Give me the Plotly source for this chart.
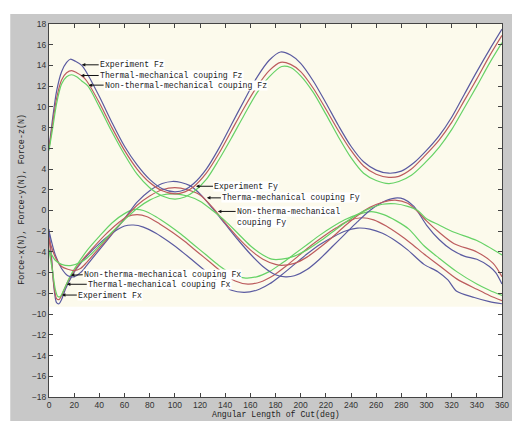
import plotly.graph_objects as go

# ---------------- data ----------------
fz_exp_x = [0, 3, 6, 10, 14, 17, 21, 26, 30, 40, 50, 60, 70, 80, 90, 100, 108, 115, 125, 135, 145, 155, 165, 175, 184, 192, 200, 210, 220, 230, 240, 250, 260, 270, 280, 290, 300, 310, 320, 330, 340, 350, 360]
fz_exp_y = [6.0, 9.0, 11.5, 13.4, 14.3, 14.6, 14.4, 14.0, 13.3, 11.0, 8.5, 6.2, 4.4, 3.0, 2.1, 1.8, 2.0, 2.6, 4.0, 6.0, 8.3, 10.6, 12.8, 14.5, 15.3, 15.0, 14.2, 12.5, 10.4, 8.2, 6.2, 4.7, 3.9, 3.6, 3.8, 4.6, 5.8, 7.2, 9.0, 11.2, 13.4, 15.5, 17.5]

fz_th_x = [0, 3, 6, 10, 14, 18, 22, 26, 30, 40, 50, 60, 70, 80, 90, 100, 108, 115, 125, 135, 145, 155, 165, 175, 184, 192, 200, 210, 220, 230, 240, 250, 260, 270, 278, 288, 298, 310, 320, 330, 340, 350, 360]
fz_th_y = [6.0, 8.5, 10.8, 12.6, 13.3, 13.5, 13.3, 13.0, 12.5, 10.4, 8.0, 5.8, 4.0, 2.7, 1.9, 1.6, 1.8, 2.3, 3.6, 5.5, 7.7, 9.9, 11.9, 13.5, 14.3, 14.1, 13.4, 11.8, 9.8, 7.7, 5.8, 4.3, 3.5, 3.2, 3.3, 4.0, 5.2, 6.8, 8.5, 10.6, 12.7, 14.9, 16.9]

fz_non_x = [0, 3, 6, 10, 14, 18, 22, 26, 31, 40, 50, 60, 70, 80, 90, 100, 108, 115, 125, 135, 145, 155, 165, 175, 185, 192, 200, 210, 220, 230, 240, 250, 260, 270, 278, 288, 298, 310, 320, 330, 340, 350, 360]
fz_non_y = [5.8, 8.0, 10.3, 12.2, 12.9, 13.1, 12.9, 12.5, 12.0, 10.0, 7.6, 5.4, 3.5, 2.2, 1.4, 1.1, 1.3, 1.8, 3.0, 4.9, 7.0, 9.2, 11.3, 12.9, 13.9, 13.8, 13.0, 11.4, 9.3, 7.1, 5.1, 3.6, 2.9, 2.6, 2.8, 3.4, 4.5, 6.1, 7.8, 9.9, 12.0, 14.2, 16.2]

fy_exp_x = [0, 5, 10, 15, 20, 25, 30, 40, 50, 60, 70, 80, 90, 98, 105, 112, 120, 130, 140, 150, 160, 170, 180, 188, 195, 205, 215, 225, 235, 245, 255, 265, 275, 282, 290, 300, 310, 320, 330, 340, 350, 355, 360]
fy_exp_y = [-2.0, -4.3, -5.6, -6.3, -6.4, -6.0, -5.3, -3.8, -2.3, -0.8, 0.8, 1.9, 2.6, 2.8, 2.7, 2.4, 1.6, 0.2, -1.3, -2.8, -4.2, -5.4, -6.2, -6.4, -6.3, -5.7, -4.7, -3.5, -2.3, -1.1, 0.0, 0.8, 1.2, 1.1, 0.4, -1.4, -2.8, -3.8, -4.4, -4.7, -5.4, -6.0, -7.1]

fy_th_x = [0, 5, 10, 20, 25, 30, 40, 50, 60, 70, 80, 90, 100, 110, 120, 130, 140, 150, 160, 170, 180, 185, 195, 205, 215, 225, 235, 245, 255, 265, 275, 285, 293, 300, 310, 322, 340, 353, 360]
fy_th_y = [-2.8, -4.5, -5.4, -5.8, -5.6, -5.0, -3.6, -2.2, -0.8, 0.5, 1.4, 2.0, 2.2, 2.0, 1.5, 0.3, -1.2, -2.6, -3.8, -4.7, -5.2, -5.3, -5.1, -4.5, -3.6, -2.6, -1.5, -0.5, 0.3, 0.8, 1.0, 0.7, -0.1, -1.0, -2.1, -3.2, -4.0, -5.1, -6.4]

fy_non_x = [0, 5, 10, 18, 25, 30, 40, 50, 60, 70, 80, 90, 100, 110, 120, 130, 140, 150, 160, 170, 177, 185, 195, 205, 215, 225, 235, 245, 255, 265, 275, 285, 293, 300, 310, 322, 340, 360]
fy_non_y = [-3.8, -4.8, -5.2, -5.3, -5.0, -4.6, -3.4, -2.1, -0.9, 0.2, 1.0, 1.5, 1.6, 1.4, 0.9, 0.0, -1.0, -2.2, -3.4, -4.3, -4.7, -4.7, -4.4, -3.8, -3.0, -2.1, -1.2, -0.4, 0.2, 0.6, 0.65, 0.4, 0.0, -0.8, -1.4, -2.1, -2.9, -4.3]

fx_exp_x = [0, 2, 4, 6, 8, 10, 13, 17, 22, 30, 40, 50, 60, 67, 75, 85, 95, 105, 115, 125, 135, 145, 155, 165, 175, 185, 195, 205, 215, 225, 235, 245, 255, 265, 275, 285, 298, 309, 317, 324, 338, 350, 360]
fx_exp_y = [-1.8, -4.5, -7.5, -8.9, -9.0, -8.6, -7.6, -6.6, -5.6, -4.4, -3.2, -2.2, -1.5, -1.4, -1.6, -2.2, -3.0, -3.9, -4.9, -5.9, -6.9, -7.7, -7.9, -7.7, -7.1, -6.2, -5.2, -4.2, -3.3, -2.6, -2.0, -1.7, -1.8, -2.2, -2.9, -3.8, -5.2, -5.9, -6.7, -7.8, -8.4, -8.8, -9.0]

fx_th_x = [0, 2, 4, 6, 8, 10, 14, 18, 25, 35, 45, 55, 62, 70, 78, 88, 98, 108, 118, 128, 138, 148, 158, 168, 178, 188, 198, 208, 218, 228, 238, 248, 258, 268, 278, 288, 298, 310, 324, 340, 350, 360]
fx_th_y = [-2.6, -4.8, -7.3, -8.5, -8.6, -8.2, -7.1, -6.2, -5.0, -3.6, -2.3, -1.2, -0.6, -0.4, -0.6, -1.3, -2.1, -3.0, -4.0, -5.0, -6.0, -6.8, -7.1, -6.9, -6.3, -5.4, -4.4, -3.4, -2.5, -1.7, -1.0, -0.7, -0.9, -1.5, -2.3, -3.2, -4.2, -5.3, -6.6, -7.6, -8.2, -8.7]

fx_non_x = [0, 3, 5, 7, 9, 12, 17, 22, 30, 40, 50, 60, 68, 75, 85, 95, 105, 115, 125, 135, 145, 155, 165, 175, 185, 195, 205, 215, 225, 235, 245, 256, 266, 276, 286, 298, 310, 324, 340, 350, 360]
fx_non_y = [-3.8, -6.0, -7.6, -8.3, -8.3, -7.6, -6.3, -5.3, -3.9, -2.5, -1.2, -0.3, 0.1, 0.0, -0.6, -1.4, -2.3, -3.3, -4.3, -5.3, -6.1, -6.5, -6.4, -5.9, -5.1, -4.2, -3.3, -2.4, -1.6, -0.9, -0.4, -0.1, -0.4, -1.0, -1.8, -3.4, -4.6, -5.9, -7.1, -7.7, -8.2]

x_ticks = list(range(0, 361, 20))
y_ticks = list(range(-18, 19, 2))

# ---------------- styles ----------------
C_EXP = "#5a5aa0"
C_TH = "#bc5c5e"
C_NON = "#66d266"
MONO = "Liberation Mono, DejaVu Sans Mono, monospace"

series = [
    (fx_exp_x, fx_exp_y, C_EXP), (fx_th_x, fx_th_y, C_TH), (fx_non_x, fx_non_y, C_NON),
    (fy_exp_x, fy_exp_y, C_EXP), (fy_th_x, fy_th_y, C_TH), (fy_non_x, fy_non_y, C_NON),
    (fz_exp_x, fz_exp_y, C_EXP), (fz_th_x, fz_th_y, C_TH), (fz_non_x, fz_non_y, C_NON),
]

fig = go.Figure()
for xs, ys, c in series:
    fig.add_trace(go.Scatter(x=xs, y=ys, mode="lines",
                             line=dict(color=c, width=1.2, shape="spline", smoothing=0.8),
                             showlegend=False, hoverinfo="skip"))

# cream panel and thin white border strips (the page margin supplies the rest)
fig.add_shape(type="rect", xref="x", yref="y", x0=0, x1=360, y0=-9.3, y1=18,
              fillcolor="#fcfaec", line_width=0, layer="below")
fig.add_shape(type="rect", xref="paper", yref="paper", x0=-0.1, x1=-0.0855, y0=-0.1, y1=1.1,
              fillcolor="white", line_width=0, layer="below")
fig.add_shape(type="rect", xref="paper", yref="paper", x0=-0.1, x1=1.1, y0=1.0265, y1=1.1,
              fillcolor="white", line_width=0, layer="below")

# (text, tip_x, tip_y, text_x, text_y)
labels = [
    ("Experiment Fz", 26.1, 14.06, 39.5, 14.06),
    ("Thermal-mechanical couping Fz", 25.3, 13.03, 39.5, 13.03),
    ("Non-thermal-mechanical couping Fz", 31.6, 12.1, 43.4, 12.1),
    ("Experiment Fy", 116.8, 2.34, 130.3, 2.34),
    ("Therma-mechanical couping Fy", 125.5, 1.22, 136.6, 1.22),
    ("Non-therma-mechanical", 134.2, -0.09, 148.3, -0.09),
    ("Non-therma-mechanical couping Fx", 17.4, -6.25, 26.8, -6.2),
    ("Thermal-mechanical couping Fx", 14.2, -7.12, 30.0, -7.12),
    ("Experiment Fx", 10.3, -8.16, 22.1, -8.16),
]
for t, tx, ty, ax, ay in labels:
    fig.add_annotation(x=tx, y=ty, ax=ax, ay=ay, axref="x", ayref="y", xref="x", yref="y",
                       text=t, showarrow=True, arrowhead=2, arrowsize=0.7, arrowwidth=1,
                       arrowcolor="#111", xanchor="left", yanchor="middle",
                       font=dict(family=MONO, size=8.2, color="#222"),
                       bgcolor="white", borderpad=0)
fig.add_annotation(x=149, y=-1.15, xref="x", yref="y", text="couping Fy", showarrow=False,
                   xanchor="left", yanchor="middle", font=dict(family=MONO, size=8.2, color="#222"),
                   bgcolor="white", borderpad=0)

# axis titles
fig.add_annotation(x=0.5, y=-0.0622, xref="paper", yref="paper", text="Angular Length of Cut(deg)",
                   showarrow=False, xanchor="center", yanchor="bottom", borderpad=0,
                   font=dict(family=MONO, size=8.2, color="#222"))
fig.add_annotation(x=-0.0592, y=0.529, xref="paper", yref="paper",
                   text="Force-x(N), Force-y(N), Force-z(N)", textangle=-90,
                   showarrow=False, xanchor="center", yanchor="middle",
                   font=dict(family=MONO, size=8.4, color="#222"))

axis_common = dict(showline=True, linecolor="#444", linewidth=1, mirror="ticks",
                   ticks="inside", ticklen=4, tickcolor="#444", showgrid=False, zeroline=False,
                   tickfont=dict(family="Liberation Sans, Arial, sans-serif", size=8.5, color="#333"))

# the page adds an 8px margin, so the figure is sized to the visible part
fig.update_layout(
    width=512, height=413,
    margin=dict(l=41, r=15, t=11, b=24),
    paper_bgcolor="#c8c8c8", plot_bgcolor="white",
    xaxis=dict(range=[0, 360], tickmode="array", tickvals=x_ticks, ticklabelstandoff=0,
               **axis_common),
    yaxis=dict(range=[-18, 18], tickmode="array", tickvals=y_ticks, **axis_common),
)

fig.write_html("out.html")
